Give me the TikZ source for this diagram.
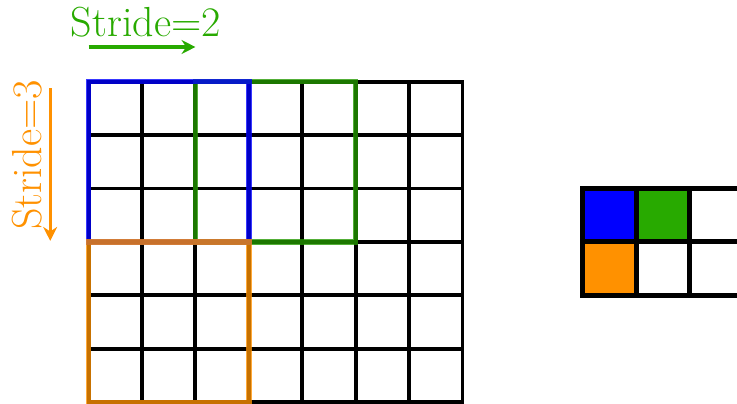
\documentclass[tikz,border=0pt]{standalone}
\usetikzlibrary{arrows.meta}
\definecolor{kblue}{RGB}{0,0,255}
\definecolor{kgreen}{RGB}{40,170,0}
\definecolor{korange}{RGB}{255,145,0}
\tikzset{
  window/.style={line width=2.8pt, opacity=0.78},
  stridearrow/.style={line width=1.7pt, -{Stealth[length=2.6mm,width=2.6mm]}},
  stridelabel/.style={font=\fontsize{22.4}{27}\selectfont},
}
\begin{document}
\begin{tikzpicture}[line width=2.1pt]
  \useasboundingbox (-1.66,-0.02) rectangle (12.14,7.53);
  % input
  \draw (0,0) grid (7,6);
  \draw (0,0) rectangle (7,6);
  \draw[window, kgreen!90!black] (2,3) rectangle (5,6);
  \draw[window, kblue] (0,3) rectangle (3,6);
  \draw[window, korange] (0,0) rectangle (3,3);
  % output
  \begin{scope}[shift={(9.25,2)}]
    \fill[kblue] (0,1) rectangle (1,2);
    \fill[kgreen] (1,1) rectangle (2,2);
    \fill[korange] (0,0) rectangle (1,1);
    \draw[line width=2.6pt] (0,0) grid (3,2);
    \draw[line width=2.6pt] (0,0) rectangle (3,2);
  \end{scope}
  % strides
  \coordinate (h0) at (0,6.65); \coordinate (h1) at (2,6.65);
  \draw[stridearrow, kgreen] (h0) -- (h1);
  \node[stridelabel, kgreen] (hlabel) at (1.07,7.12) {Stride=2};
  \coordinate (v0) at (-0.72,5.88); \coordinate (v1) at (-0.72,3.02);
  \draw[stridearrow, korange] (v0) -- (v1);
  \node[stridelabel, korange, rotate=90] (vlabel) at (-1.16,4.63) {Stride=3};
\end{tikzpicture}
\end{document}
